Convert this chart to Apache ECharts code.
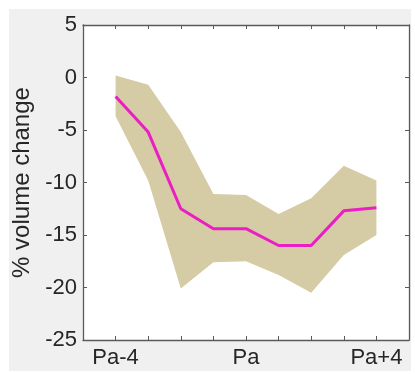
<!DOCTYPE html>
<html>
<head>
<meta charset="utf-8">
<script src="https://cdn.jsdelivr.net/npm/echarts@6/dist/echarts.min.js"></script>
<style>
  html, body { margin: 0; padding: 0; background: #fff; }
  #main { width: 415px; height: 374px; }
</style>
</head>
<body>
<div id="main"></div>
<script>
// x categories, with empty gaps at both ends (like a padded axis)
var categories = ['', 'Pa-4', 'Pa-3', 'Pa-2', 'Pa-1', 'Pa', 'Pa+1', 'Pa+2', 'Pa+3', 'Pa+4', '']
var shownLabels = ['Pa-4', 'Pa', 'Pa+4']

// mean % volume change
var meanValues = [null, -1.8, -5.2, -12.5, -14.4, -14.4, -16.0, -16.0, -12.7, -12.4, null]
// band edges
var upperValues = [null, 0.2, -0.7, -5.2, -11.1, -11.2, -13.0, -11.5, -8.4, -9.8, null]
var lowerValues = [null, -3.7, -9.8, -20.1, -17.6, -17.5, -18.8, -20.5, -16.9, -15.0, null]

var yTicks = [-25, -20, -15, -10, -5, 0, 5]

var bandWidth = []
for (var i = 0; i < categories.length; i++) {
    if (upperValues[i] == null) {
        bandWidth.push(null)
    } else {
        bandWidth.push(+(upperValues[i] - lowerValues[i]).toFixed(2))
    }
}

var chart = echarts.init(document.getElementById('main'))

var textColor = '#262626'
var axisColor = '#5a5a5a'
var font = '"Liberation Sans", Arial, sans-serif'

var option = {
    animation: false,
    graphic: [{
        type: 'rect',
        z: -100,
        silent: true,
        shape: { x: 9, y: 9, width: 402, height: 362 },
        style: { fill: '#f0f0f0' }
    }],
    grid: {
        left: 83,
        right: 6,
        top: 25,
        bottom: 34,
        show: true,
        backgroundColor: '#ffffff',
        borderWidth: 0
    },
    xAxis: [{
        type: 'category',
        data: categories,
        boundaryGap: false,
        position: 'bottom',
        axisLine: { onZero: false, lineStyle: { color: axisColor, width: 1.3 } },
        axisTick: { inside: true, length: 4, interval: 0, lineStyle: { color: axisColor } },
        axisLabel: {
            interval: 0,
            color: textColor,
            fontFamily: font,
            fontSize: 22,
            margin: 7,
            formatter: function (v) {
                return shownLabels.indexOf(v) >= 0 ? v : ''
            }
        },
        splitLine: { show: false }
    }, {
        type: 'category',
        data: categories,
        boundaryGap: false,
        position: 'top',
        axisLine: { onZero: false, lineStyle: { color: axisColor, width: 1.3 } },
        axisTick: { inside: true, length: 4, interval: 0, lineStyle: { color: axisColor } },
        axisLabel: { show: false },
        splitLine: { show: false }
    }],
    yAxis: [{
        type: 'value',
        min: yTicks[0],
        max: yTicks[yTicks.length - 1],
        interval: 5,
        position: 'left',
        name: '% volume change',
        nameLocation: 'middle',
        nameGap: 45,
        nameTextStyle: { color: textColor, fontFamily: font, fontSize: 24 },
        axisLine: { show: true, onZero: false, lineStyle: { color: axisColor, width: 1.3 } },
        axisTick: { show: true, inside: true, length: 4, lineStyle: { color: axisColor } },
        axisLabel: { color: textColor, fontFamily: font, fontSize: 22, margin: 6 },
        splitLine: { show: false }
    }, {
        type: 'value',
        min: yTicks[0],
        max: yTicks[yTicks.length - 1],
        interval: 5,
        position: 'right',
        axisLine: { show: true, onZero: false, lineStyle: { color: axisColor, width: 1.3 } },
        axisTick: { show: true, inside: true, length: 4, lineStyle: { color: axisColor } },
        axisLabel: { show: false },
        splitLine: { show: false }
    }],
    series: [{
        // invisible base of the band
        type: 'line',
        stack: 'band',
        stackStrategy: 'all',
        data: lowerValues,
        symbol: 'none',
        lineStyle: { width: 0, opacity: 0 },
        silent: true
    }, {
        type: 'line',
        stack: 'band',
        stackStrategy: 'all',
        data: bandWidth,
        symbol: 'none',
        lineStyle: { width: 0, opacity: 0 },
        areaStyle: { color: '#d5cba4', opacity: 1 },
        silent: true
    }, {
        type: 'line',
        data: meanValues,
        symbol: 'none',
        lineStyle: { color: '#ea1ec4', width: 3 },
        z: 5
    }]
}

chart.setOption(option)
</script>
</body>
</html>
